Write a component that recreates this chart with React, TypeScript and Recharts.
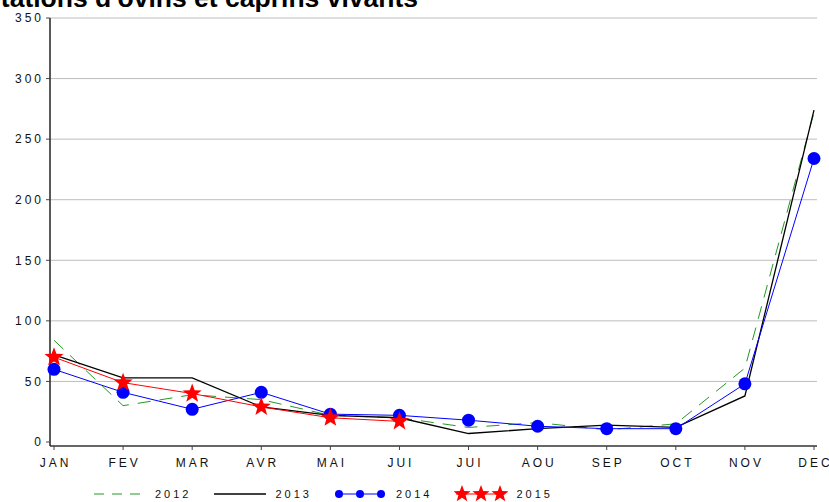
import React from 'react';
import { LineChart, Line, XAxis, YAxis, CartesianGrid } from 'recharts';

const months = ['JAN', 'FEV', 'MAR', 'AVR', 'MAI', 'JUI', 'JUI', 'AOU', 'SEP', 'OCT', 'NOV', 'DEC'];
const s2012 = [84, 30, 39, 35, 22, 20, 12, 16, 10, 15, 61, 272];
const s2013 = [72, 53, 53, 29, 22, 20, 7, 11, 14, 12, 38, 274];
const s2014 = [60, 41, 27, 41, 23, 22, 18, 13, 11, 11, 48, 234];
const s2015: (number | null)[] = [70, 49, 40, 29, 20, 17, null, null, null, null, null, null];
const yTicks = [0, 50, 100, 150, 200, 250, 300, 350];
const gridValues = [50, 100, 150, 200, 250, 300, 350];
const title = "Importations d'ovins et caprins vivants";

const data = months.map((m, i) => ({
  idx: i,
  m,
  a: s2012[i],
  b: s2013[i],
  c: s2014[i],
  d: s2015[i],
}));

const FONT = '"Liberation Sans", Arial, sans-serif';

function starPoints(cx: number, cy: number, ro: number, ri: number) {
  const pts: string[] = [];
  for (let k = 0; k < 10; k++) {
    const r = k % 2 === 0 ? ro : ri;
    const ang = -Math.PI / 2 + (k * Math.PI) / 5;
    pts.push(`${cx + r * Math.cos(ang)},${cy + r * Math.sin(ang)}`);
  }
  return pts.join(' ');
}

const StarDot = (props: any) => {
  const { cx, cy, index, value } = props;
  if (cx == null || cy == null || value == null) return <g key={`s${index}`} />;
  return <polygon key={`s${index}`} points={starPoints(cx, cy, 10, 4.2)} fill="#ff0000" stroke="none" />;
};

const XTick = (props: any) => {
  const { x, y, payload } = props;
  return (
    <text x={x + 1.5} y={y} dy="0.71em" textAnchor="middle" fill="#111" fontSize={12} fontFamily={FONT} letterSpacing={3}>
      {months[payload.value]}
    </text>
  );
};

const YTick = (props: any) => {
  const { x, y, payload } = props;
  return (
    <text x={x + 3} y={y} dy="0.355em" textAnchor="end" fill="#111" fontSize={12} fontFamily={FONT} letterSpacing={3}>
      {payload.value}
    </text>
  );
};

const LegendBox = () => {
  const item = (icon: React.ReactNode, label: string) => (
    <div style={{ display: 'flex', alignItems: 'center', marginRight: 22 }}>
      <svg width={54} height={20} style={{ display: 'block' }}>{icon}</svg>
      <span style={{ marginLeft: 8, fontSize: 11, letterSpacing: 3, fontFamily: FONT, color: '#111', lineHeight: '20px' }}>{label}</span>
    </div>
  );
  return (
    <div style={{ position: 'absolute', left: 0, top: 484, width: 829, height: 20, display: 'flex', alignItems: 'center', paddingLeft: 93, boxSizing: 'border-box' }}>
      {item(<line x1={1} y1={10} x2={53} y2={10} stroke="#229922" strokeWidth={1} strokeDasharray="10 8" />, '2012')}
      {item(<line x1={1} y1={10} x2={53} y2={10} stroke="#000" strokeWidth={1.3} />, '2013')}
      {item(
        <g>
          <line x1={1} y1={10} x2={51} y2={10} stroke="#0000ff" strokeWidth={1} />
          <circle cx={5} cy={10} r={4} fill="#0000ff" />
          <circle cx={26} cy={10} r={4} fill="#0000ff" />
          <circle cx={47} cy={10} r={4} fill="#0000ff" />
        </g>,
        '2014'
      )}
      {item(
        <g>
          <line x1={2} y1={10} x2={50} y2={10} stroke="#ff0000" strokeWidth={1} />
          <polygon points={starPoints(8, 10, 9, 3.8)} fill="#ff0000" />
          <polygon points={starPoints(27, 10, 9, 3.8)} fill="#ff0000" />
          <polygon points={starPoints(46, 10, 9, 3.8)} fill="#ff0000" />
        </g>,
        '2015'
      )}
    </div>
  );
};

export default function App() {
  return (
    <div style={{ position: 'absolute', left: 0, top: 0, width: 829, height: 502, background: '#fff', overflow: 'hidden' }}>
      <LineChart width={829} height={502} data={data} margin={{ top: 18, right: 12, bottom: 26, left: 0 }}>
        <CartesianGrid vertical={false} horizontalValues={gridValues} stroke="#bdbdbd" strokeWidth={1} />
        <XAxis
          dataKey="idx"
          type="category"
          height={30}
          padding={{ left: 4, right: 3 }}
          tick={<XTick />}
          tickSize={4}
          tickMargin={8}
          axisLine={{ stroke: '#666', strokeWidth: 2 }}
          tickLine={{ stroke: '#444' }}
          interval={0}
        />
        <YAxis
          width={50}
          domain={[0, 350]}
          ticks={yTicks}
          padding={{ top: 0, bottom: 4 }}
          tick={<YTick />}
          tickSize={4}
          tickMargin={5}
          axisLine={{ stroke: '#222', strokeWidth: 1.5 }}
          tickLine={{ stroke: '#444' }}
          interval={0}
        />
        <Line dataKey="a" stroke="#229922" strokeWidth={1} strokeDasharray="13 9" dot={false} activeDot={false} isAnimationActive={false} />
        <Line dataKey="b" stroke="#000000" strokeWidth={1.3} dot={false} activeDot={false} isAnimationActive={false} />
        <Line dataKey="c" stroke="#0000ff" strokeWidth={1} dot={{ r: 6.5, fill: '#0000ff', stroke: 'none' }} activeDot={false} isAnimationActive={false} />
        <Line dataKey="d" stroke="#ff0000" strokeWidth={1} dot={<StarDot />} activeDot={false} isAnimationActive={false} connectNulls={false} />
      </LineChart>
      <LegendBox />
      <svg width={829} height={30} style={{ position: 'absolute', left: 0, top: 0, overflow: 'visible', pointerEvents: 'none' }}>
        <text x={418} y={7} textAnchor="end" fontSize={26.5} fontWeight="bold" fontFamily={FONT} fill="#000">
          {title}
        </text>
      </svg>
    </div>
  );
}
